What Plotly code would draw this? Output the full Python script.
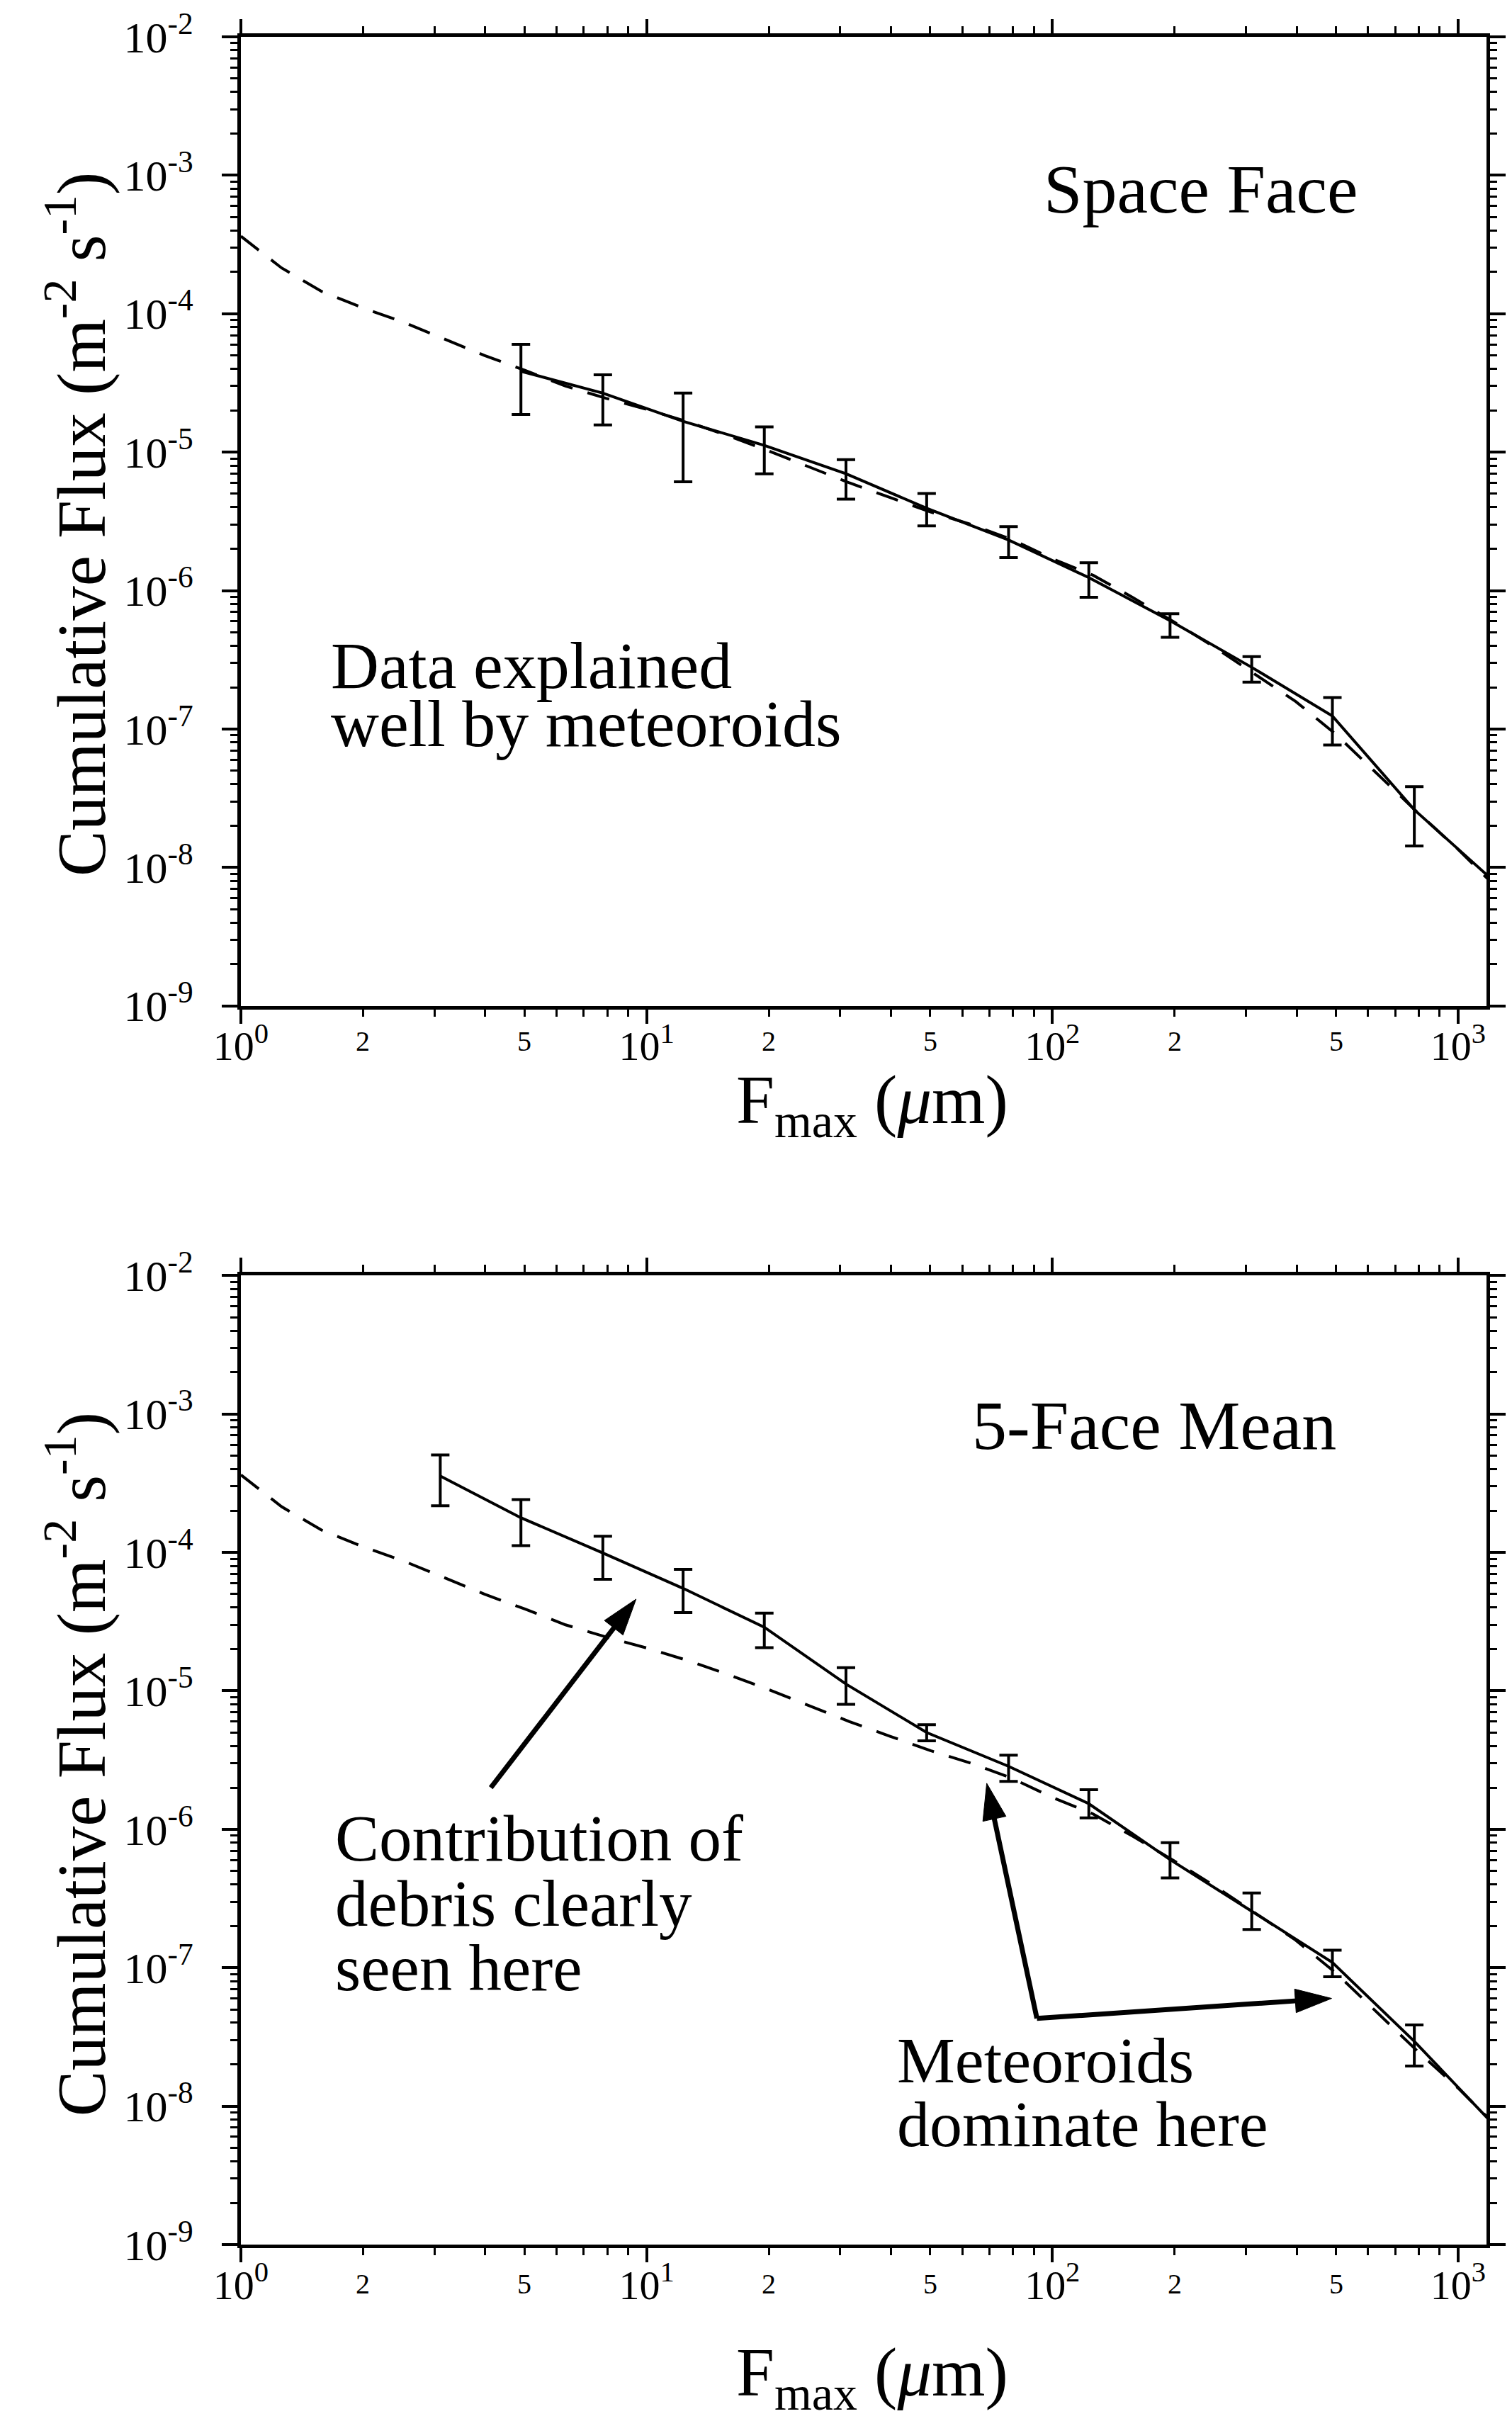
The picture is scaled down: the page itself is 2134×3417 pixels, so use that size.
import math
import plotly.graph_objects as go

# ---------------- data ----------------
# Space Face: measured cumulative flux with error-bar limits
space_size = [4.9, 7.8, 12.3, 19.5, 31, 49, 78, 123, 195, 310, 490, 780]
space_flux = [3.84e-5, 2.67e-5, 1.67e-5, 1.12e-5, 6.98e-6, 3.93e-6, 2.32e-6, 1.24e-6, 6.07e-7, 2.79e-7, 1.24e-7, 2.61e-8]
space_hi = [6.0e-5, 3.62e-5, 2.67e-5, 1.52e-5, 8.83e-6, 5.03e-6, 2.90e-6, 1.59e-6, 6.8e-7, 3.33e-7, 1.69e-7, 3.84e-8]
space_lo = [1.87e-5, 1.57e-5, 6.1e-6, 6.98e-6, 4.57e-6, 2.93e-6, 1.73e-6, 8.95e-7, 4.6e-7, 2.18e-7, 7.67e-8, 1.43e-8]
space_tail_size = [780, 1200]
space_tail_flux = [2.61e-8, 8.4e-9]

# 5-Face Mean
mean_size = [3.1, 4.9, 7.8, 12.3, 19.5, 31, 49, 78, 123, 195, 310, 490, 780]
mean_flux = [3.56e-4, 1.78e-4, 9.9e-5, 5.5e-5, 2.88e-5, 1.12e-5, 5.0e-6, 2.85e-6, 1.53e-6, 6.04e-7, 2.56e-7, 1.09e-7, 2.94e-8]
mean_hi = [5.06e-4, 2.41e-4, 1.31e-4, 7.55e-5, 3.64e-5, 1.47e-5, 5.7e-6, 3.43e-6, 1.93e-6, 8.0e-7, 3.47e-7, 1.34e-7, 3.86e-8]
mean_lo = [2.17e-4, 1.12e-4, 6.4e-5, 3.68e-5, 2.05e-5, 8.0e-6, 4.35e-6, 2.22e-6, 1.21e-6, 4.45e-7, 1.89e-7, 8.6e-8, 1.95e-8]
mean_tail_size = [780, 1200]
mean_tail_flux = [2.94e-8, 7.8e-9]

# meteoroid model (dashed curve), same in both panels
model_size = [1.0, 1.26, 1.58, 2.0, 2.51, 3.16, 3.98, 5.01, 6.31, 7.94, 10, 12.6, 15.8, 20, 25.1,
              31.6, 39.8, 50.1, 63.1, 79.4, 100, 126, 158, 200, 251, 316, 398, 501, 631, 794, 1000, 1259]
model_flux = [3.63e-4, 2.14e-4, 1.45e-4, 1.10e-4, 8.7e-5, 6.6e-5, 5.0e-5, 3.9e-5, 3.0e-5, 2.45e-5, 2.04e-5,
              1.66e-5, 1.32e-5, 1.02e-5, 7.8e-6, 6.0e-6, 4.7e-6, 3.7e-6, 3.0e-6, 2.34e-6, 1.70e-6, 1.29e-6,
              8.9e-7, 5.9e-7, 3.9e-7, 2.5e-7, 1.58e-7, 9.1e-8, 4.8e-8, 2.5e-8, 1.35e-8, 6.9e-9]

# axis ticks
x_major = [1, 10, 100, 1000]
x_major_text = ["10<sup>0</sup>", "10<sup>1</sup>", "10<sup>2</sup>", "10<sup>3</sup>"]
x_small_pos = [2, 5, 20, 50, 200, 500]
x_small_text = ["2", "5", "2", "5", "2", "5"]
y_major = [1e-2, 1e-3, 1e-4, 1e-5, 1e-6, 1e-7, 1e-8, 1e-9]
y_major_text = ["10<sup>-2</sup>", "10<sup>-3</sup>", "10<sup>-4</sup>", "10<sup>-5</sup>",
                "10<sup>-6</sup>", "10<sup>-7</sup>", "10<sup>-8</sup>", "10<sup>-9</sup>"]
x_minor = [m * d for d in (1, 10, 100) for m in range(2, 10)]
y_minor = [m * 10.0 ** e for e in range(-9, -2) for m in range(2, 10)]

# annotation arrows (5-Face Mean panel): (size, flux) of tail and tip
arrow_debris = [(4.13, 2.0e-6), (9.42, 4.6e-5)]
arrow_meteor_up = [(91.6, 4.3e-8), (68.9, 2.15e-6)]
arrow_meteor_right = [(91.6, 4.3e-8), (488, 6.0e-8)]

# ---------------- layout geometry ----------------
W, H = 2134, 3417
L, R, T, B = 340, 2125, 49, 3168
FONT = "Liberation Serif"


def py(p):
    return (B - p) / (B - T)


def px(p):
    return (p - L) / (R - L)


upper_dom = [py(1418), 1.0]
lower_dom = [0.0, py(1799)]

fig = go.Figure()


def add_panel(xa, ya, size, flux, hi, lo, tail_s, tail_f):
    fig.add_trace(go.Scatter(x=model_size, y=model_flux, mode="lines", xaxis=xa, yaxis=ya,
                             line=dict(color="black", width=4, dash="32px,22px"), showlegend=False,
                             hoverinfo="skip"))
    fig.add_trace(go.Scatter(x=size + tail_s[1:], y=flux + tail_f[1:], mode="lines", xaxis=xa, yaxis=ya,
                             line=dict(color="black", width=4), showlegend=False, hoverinfo="skip"))
    fig.add_trace(go.Scatter(x=size, y=flux, mode="markers", xaxis=xa, yaxis=ya,
                             marker=dict(size=1, color="black"),
                             error_y=dict(type="data", symmetric=False,
                                          array=[h - f for h, f in zip(hi, flux)],
                                          arrayminus=[f - l for f, l in zip(flux, lo)],
                                          color="black", thickness=4, width=13),
                             showlegend=False, hoverinfo="skip"))


add_panel("x", "y", space_size, space_flux, space_hi, space_lo, space_tail_size, space_tail_flux)
add_panel("x2", "y2", mean_size, mean_flux, mean_hi, mean_lo, mean_tail_size, mean_tail_flux)

# arrows in lower panel
for arr in (arrow_debris, arrow_meteor_up, arrow_meteor_right):
    fig.add_trace(go.Scatter(x=[arr[0][0], arr[1][0]], y=[arr[0][1], arr[1][1]], xaxis="x2", yaxis="y2",
                             mode="lines+markers", line=dict(color="black", width=7),
                             marker=dict(symbol="arrow", size=[0, 54], angleref="previous", color="black",
                                         opacity=1, line=dict(width=1, color="black")),
                             showlegend=False, hoverinfo="skip"))


def xcfg(anchor, domain_y):
    return dict(type="log", range=[0, 3.07], anchor=anchor, domain=[0, 1],
                showline=True, linecolor="black", linewidth=5, mirror="allticks",
                ticks="outside", ticklen=20, tickwidth=4, tickcolor="black",
                tickvals=x_major, ticktext=x_major_text,
                tickfont=dict(family=FONT, size=58, color="black"), ticklabelstandoff=-18,
                minor=dict(ticks="outside", ticklen=10, tickwidth=3, tickcolor="black",
                           tickvals=x_minor, showgrid=False),
                showgrid=False, zeroline=False)


def ycfg(anchor, domain):
    return dict(type="log", range=[-9, -2], anchor=anchor, domain=domain,
                showline=True, linecolor="black", linewidth=5, mirror="allticks",
                ticks="outside", ticklen=22, tickwidth=4, tickcolor="black",
                tickvals=y_major, ticktext=y_major_text,
                tickfont=dict(family=FONT, size=62, color="black"), ticklabelstandoff=28,
                minor=dict(ticks="outside", ticklen=10, tickwidth=3, tickcolor="black",
                           tickvals=y_minor, showgrid=False),
                showgrid=False, zeroline=False)


annotations = []


def text(x, y, s, size, xref, yref, xanchor="left", angle=0):
    annotations.append(dict(x=x, y=y, xref=xref, yref=yref, text=s, showarrow=False,
                            xanchor=xanchor, yanchor="middle", textangle=angle,
                            font=dict(family=FONT, size=size, color="black")))


ytitle = "Cumulative Flux (m<sup>-2</sup> s<sup>-1</sup>)"
xtitle = "F<sub>max</sub> (<i>μ</i>m)"
# axis titles
text(px(104), py(738), ytitle, 97, "paper", "paper", "center", -90)
text(px(104), py(2490), ytitle, 97, "paper", "paper", "center", -90)
text(px(1245), py(1558), xtitle, 97, "paper", "paper", "center")
text(px(1245), py(3356), xtitle, 97, "paper", "paper", "center")
# small 2 / 5 tick labels
for v, s in zip(x_small_pos, x_small_text):
    text(math.log10(v), py(1468), s, 40, "x", "paper", "center")
    text(math.log10(v), py(3224), s, 40, "x", "paper", "center")

# in-plot text, upper panel
lg = math.log10
text(lg(232), lg(7.9e-4), "Space Face", 98, "x", "y", "center")
text(lg(1.65), lg(2.9e-7), "Data explained", 94, "x", "y")
text(lg(1.65), lg(1.1e-7), "well by meteoroids", 94, "x", "y")
# lower panel
text(lg(178), lg(8.3e-4), "5-Face Mean", 98, "x2", "y2", "center")
text(lg(1.69), lg(8.6e-7), "Contribution of", 93, "x2", "y2")
text(lg(1.69), lg(2.9e-7), "debris clearly", 93, "x2", "y2")
text(lg(1.69), lg(1.0e-7), "seen here", 93, "x2", "y2")
text(lg(41), lg(2.15e-8), "Meteoroids", 92, "x2", "y2")
text(lg(41), lg(7.4e-9), "dominate here", 92, "x2", "y2")

fig.update_layout(
    width=W, height=H,
    margin=dict(l=L, r=W - R, t=T, b=H - B),
    paper_bgcolor="white", plot_bgcolor="white",
    xaxis=xcfg("y", upper_dom), yaxis=ycfg("x", upper_dom),
    xaxis2=xcfg("y2", lower_dom), yaxis2=ycfg("x2", lower_dom),
    annotations=annotations,
    showlegend=False,
    font=dict(family=FONT, color="black"),
)

fig.write_html("out.html")
